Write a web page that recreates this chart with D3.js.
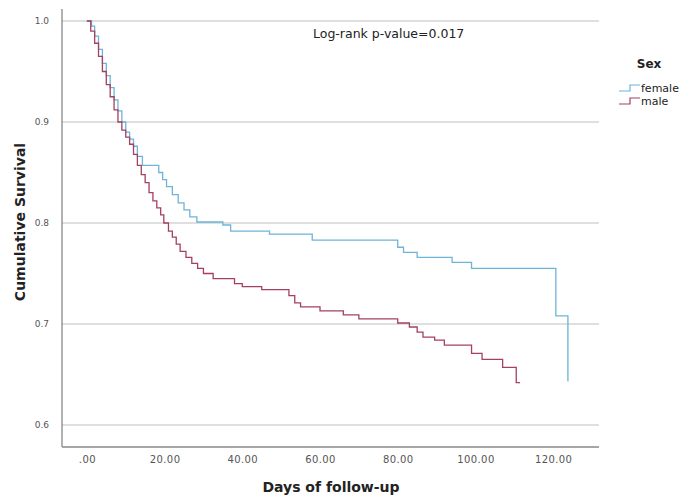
<!DOCTYPE html>
<html>
<head>
<meta charset="utf-8">
<script src="https://cdn.jsdelivr.net/npm/d3@7"></script>
<style>
  body { margin: 0; background: #fff; }
  text { font-family: "DejaVu Sans", "Liberation Sans", sans-serif; }
</style>
</head>
<body>
<svg id="chart"></svg>
<script>
// Kaplan-Meier step data: [day, survival after the step]
const femaleSteps = [[0,1.0],[1.2,0.995],[2,0.985],[3,0.972],[4,0.958],[5,0.946],[6,0.934],[7,0.922],[8,0.911],[9,0.9],[10,0.89],[11,0.883],[12,0.876],[13,0.866],[14.3,0.857],[18.5,0.85],[19.5,0.843],[20.5,0.836],[22,0.828],[23.5,0.82],[25,0.813],[26.5,0.806],[28.3,0.801],[35,0.798],[37,0.792],[47,0.789],[58,0.783],[80,0.776],[81.5,0.771],[85,0.766],[94,0.761],[99,0.755],[120.7,0.708],[123.8,0.643]];
const femaleEnd = 123.8;

const maleSteps = [[0,1.0],[1,0.99],[2,0.978],[3,0.965],[4,0.95],[5,0.937],[6,0.925],[7,0.912],[8,0.9],[9,0.892],[10,0.885],[11,0.878],[12,0.868],[13,0.857],[14,0.848],[15,0.84],[16,0.83],[17,0.822],[18,0.815],[19,0.808],[19.8,0.8],[21,0.792],[22,0.786],[23,0.779],[24,0.772],[25.5,0.766],[27,0.76],[28.5,0.755],[30,0.75],[32.5,0.745],[38,0.74],[40,0.737],[45,0.734],[52,0.728],[53.5,0.721],[55,0.717],[60,0.713],[66,0.709],[70,0.705],[80,0.701],[83,0.697],[85,0.692],[86.5,0.687],[89.5,0.684],[92,0.679],[99,0.671],[101.7,0.665],[107,0.657],[110.5,0.642]];
const maleEnd = 111.5;

const xTicks = [0, 20, 40, 60, 80, 100, 120];
const xTickLabels = [".00", "20.00", "40.00", "60.00", "80.00", "100.00", "120.00"];
const yTicks = [0.6, 0.7, 0.8, 0.9, 1.0];
const yTickLabels = ["0.6", "0.7", "0.8", "0.9", "1.0"];
const seriesNames = ["female", "male"];
const seriesColors = ["#6db4d8", "#a5405f"];

const width = 697, height = 497;
const plotLeft = 62, plotRight = 599, plotTop = 9, plotBottom = 447;

const svg = d3.select("#chart").attr("width", width).attr("height", height);

const x = d3.scaleLinear().domain([-6.4, 131.8]).range([plotLeft, plotRight]);
const y = d3.scaleLinear().domain([0.5782, 1.0119]).range([plotBottom, plotTop]);

// gridlines
svg.append("g")
  .selectAll("line")
  .data(yTicks)
  .enter().append("line")
    .attr("x1", plotLeft).attr("x2", plotRight)
    .attr("y1", d => y(d)).attr("y2", d => y(d))
    .attr("stroke", "#d4d4d4").attr("stroke-width", 1.3);

// axes
const yAxis = svg.append("g")
  .attr("transform", `translate(${plotLeft},0)`)
  .call(d3.axisLeft(y).tickValues(yTicks).tickSize(0).tickPadding(13)
    .tickFormat((d, i) => yTickLabels[i]));
yAxis.select(".domain").attr("stroke", "#888").attr("stroke-width", 1.3).attr("d", `M0,${plotTop}V${plotBottom}`);
yAxis.selectAll("text").attr("font-size", 9).attr("fill", "#555").attr("font-family", "Liberation Sans");

const xAxis = svg.append("g")
  .attr("transform", `translate(0,${plotBottom})`)
  .call(d3.axisBottom(x).tickValues(xTicks).tickSize(0).tickPadding(9)
    .tickFormat((d, i) => xTickLabels[i]));
xAxis.select(".domain").attr("stroke", "#888").attr("stroke-width", 1.3).attr("d", `M${plotLeft},0H${plotRight}`);
xAxis.selectAll("text").attr("font-size", 10).attr("fill", "#555").attr("letter-spacing", 0.4);

// survival curves
const line = d3.line().x(d => x(d[0])).y(d => y(d[1])).curve(d3.curveStepAfter);
function withEnd(steps, end) {
  return steps.concat([[end, steps[steps.length - 1][1]]]);
}
const curves = [withEnd(femaleSteps, femaleEnd), withEnd(maleSteps, maleEnd)];

svg.append("g")
  .selectAll("path")
  .data(curves)
  .enter().append("path")
    .attr("d", line)
    .attr("fill", "none")
    .attr("stroke", (d, i) => seriesColors[i])
    .attr("stroke-width", 1.3);

// annotation
svg.append("text")
  .attr("x", 313).attr("y", 38)
  .attr("font-size", 12.5).attr("fill", "#222")
  .text("Log-rank p-value=0.017");

// axis titles
svg.append("text")
  .attr("x", 331).attr("y", 492)
  .attr("text-anchor", "middle")
  .attr("font-size", 14).attr("font-weight", "bold").attr("fill", "#222")
  .text("Days of follow-up");

svg.append("text")
  .attr("transform", "translate(25,222) rotate(-90)")
  .attr("text-anchor", "middle")
  .attr("font-size", 14).attr("font-weight", "bold").attr("fill", "#222")
  .text("Cumulative Survival");

// legend
const legend = svg.append("g").attr("transform", "translate(619,0)");
legend.append("text")
  .attr("x", 30).attr("y", 68)
  .attr("text-anchor", "middle")
  .attr("font-size", 12).attr("font-weight", "bold").attr("fill", "#222")
  .text("Sex");
const items = legend.selectAll(".item")
  .data(seriesNames)
  .enter().append("g")
    .attr("transform", (d, i) => `translate(0,${88 + i * 13})`);
items.append("path")
  .attr("d", "M0,3H11V-3H21")
  .attr("fill", "none")
  .attr("stroke", (d, i) => seriesColors[i])
  .attr("stroke-width", 1.2);
items.append("text")
  .attr("x", 22).attr("y", 4)
  .attr("font-size", 11).attr("fill", "#222")
  .text(d => d);
</script>
</body>
</html>
